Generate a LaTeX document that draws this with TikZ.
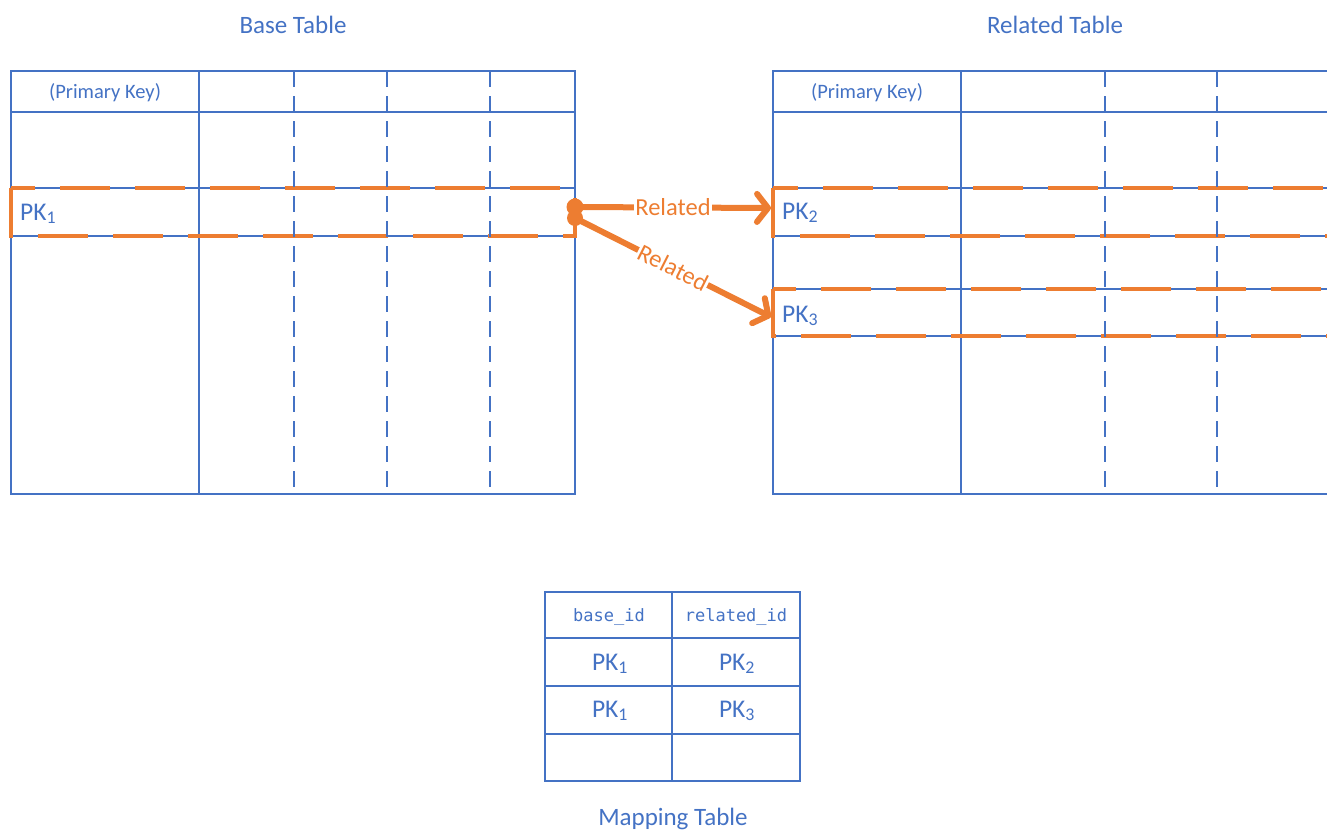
\documentclass[tikz,border=0pt]{standalone}
\usepackage{fontspec}
\setmainfont{Carlito}
\newfontfamily\monof{DejaVu Sans Mono}
\usetikzlibrary{arrows.meta}
\definecolor{tblue}{HTML}{4472C4}
\definecolor{torange}{HTML}{ED7D31}
\tikzset{
  gridline/.style={tblue, line width=1.6pt},
  mapline/.style={tblue, line width=2pt},
  dgrid/.style={tblue, line width=2pt, dash pattern=on 16pt off 9pt},
  hl/.style={torange, line width=3.5pt, dash pattern=on 50pt off 25pt},
  rel/.style={torange, line width=6pt, line cap=round, -{Straight Barb[length=11pt,width=28pt,round]}},
  lbl/.style={text=torange, font=\fontsize{24.5}{28}\selectfont, fill=white, inner sep=1pt},
  ttl/.style={text=tblue, font=\fontsize{25}{28}\selectfont, inner sep=0pt, anchor=base},
  hdr/.style={text=tblue, font=\fontsize{20.5}{24}\selectfont, inner sep=0pt, anchor=base},
  pk/.style={text=tblue, font=\fontsize{25.5}{28}\selectfont, inner sep=0pt},
  mono/.style={text=tblue, font=\monof\fontsize{17}{20}\selectfont, inner sep=0pt, anchor=base},
  dot/.style={circle, fill=torange, inner sep=0pt, minimum size=17pt}
}
\begin{document}
\begin{tikzpicture}[x=1pt, y=-1pt]
\useasboundingbox (0,0) rectangle (1327,830);
\clip (0,0) rectangle (1327,830);
% titles
\node[ttl] (tbase) at (293,33) {Base Table};
\node[ttl] (trel) at (1055,33) {Related Table};
\node[ttl] (tmap) at (673,825) {Mapping Table};

% ---- Base table grid
\draw[gridline] (11,71) rectangle (575,494);
\draw[gridline] (11,112) -- (575,112);
\draw[gridline] (11,188) -- (575,188);
\draw[gridline] (11,236) -- (575,236);
\draw[gridline] (199,71) -- (199,494);
% ---- Related table grid
\draw[gridline] (1340,71) -- (773,71) -- (773,494) -- (1340,494);
\foreach \yy in {112,188,236,289,336} \draw[gridline] (773,\yy) -- (1340,\yy);
\draw[gridline] (961,71) -- (961,494);

% ---- highlights
\draw[hl] (11,188) -- (11,236) -- (575,236) -- (575,188) -- cycle;
\draw[hl] (773,188) -- (773,236) -- (1375,236) -- (1375,188) -- cycle;
\draw[hl] (773,289) -- (773,336) -- (1375,336) -- (1375,289) -- cycle;

% dashed columns
\foreach \xx in {294,387,490} \draw[dgrid] (\xx,71) -- (\xx,494);
\foreach \xx in {1105,1217} \draw[dgrid] (\xx,71) -- (\xx,494);

% header texts
\node[hdr] (pkhA) at (105,98) {(Primary Key)};
\node[hdr] (pkhB) at (867,98) {(Primary Key)};
% PK labels
\node[pk, anchor=base west] (pk1) at (20,220) {PK\textsubscript{1}};
\node[pk, anchor=base west] (pk2) at (782,219) {PK\textsubscript{2}};
\node[pk, anchor=base west] (pk3) at (782,322) {PK\textsubscript{3}};

% ---- connectors
\node[dot] (d1) at (575,207) {};
\node[dot, minimum size=16pt] (d2) at (575,218) {};
\coordinate (e1) at (771,208);
\coordinate (e2) at (771,317);
\draw[rel] (d1.center) -- node[lbl] (l1) {Related} (e1);
\draw[rel] (d2.center) -- node[lbl, sloped] (l2) {Related} (e2);

% ---- Mapping table
\draw[mapline] (545,592) rectangle (800,781);
\draw[mapline] (545,638) -- (800,638);
\draw[mapline, line width=2.6pt] (545,686) -- (800,686);
\draw[mapline, line width=2.6pt] (545,734) -- (800,734);
\draw[mapline] (672,592) -- (672,781);
\node[mono] (mh1) at (609,621) {base\_id};
\node[mono] (mh2) at (736,621) {related\_id};
\node[pk, anchor=base] (m11) at (610,670) {PK\textsubscript{1}};
\node[pk, anchor=base] (m12) at (737,670) {PK\textsubscript{2}};
\node[pk, anchor=base] (m21) at (610,717) {PK\textsubscript{1}};
\node[pk, anchor=base] (m22) at (737,717) {PK\textsubscript{3}};
\end{tikzpicture}
\end{document}
